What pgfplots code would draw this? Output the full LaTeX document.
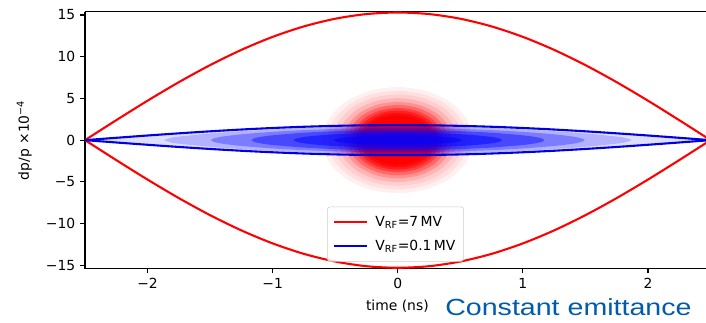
\documentclass[border=0pt]{standalone}
\usepackage{fontspec}
\setmainfont{DejaVu Sans}
\newfontfamily\cefont[FakeStretch=1.225]{Liberation Sans}
\usepackage{pgfplots}
\usepackage{pgfplotstable}
\pgfplotsset{compat=1.18}
\definecolor{cemit}{RGB}{0,91,170}
\definecolor{lblue}{RGB}{0,0,225}

\pgfplotstableread{
u v
1 0
0.9239 0.3827
0.7071 0.7071
0.3827 0.9239
0 1
-0.3827 0.9239
-0.7071 0.7071
-0.9239 0.3827
-1 0
-0.9239 -0.3827
-0.7071 -0.7071
-0.3827 -0.9239
0 -1
0.3827 -0.9239
0.7071 -0.7071
0.9239 -0.3827
1 0
}\unitcircle

\begin{document}
\begin{tikzpicture}
\begin{axis}[
  width=447.1pt, height=185pt, scale only axis,
  xmin=-2.5, xmax=2.464, ymin=-15.4, ymax=15.4,
  axis y line*=left,
  xtick={-2,-1,0,1,2}, xticklabels={−2,−1,0,1,2},
  ytick={-15,-10,-5,0,5,10,15}, yticklabels={−15,−10,−5,0,5,10,15},
  xtick pos=bottom, ytick pos=left,
  tick align=outside, major tick length=3.5pt,
  tick style={black, line width=0.8pt},
  axis line style={line width=0.8pt},
  xlabel={time (ns)},
  ylabel={dp/p ×10\textsuperscript{−4}},
  xlabel style={at={(axis description cs:0.503,-0.163)}, anchor=base, inner sep=0pt},
  ylabel style={at={(axis description cs:-0.0854,0.5)}, anchor=south, rotate=0, inner sep=0pt},
  legend style={at={(0.5,0.027)}, anchor=south, draw=black!20, rounded corners=2pt,
    fill=white, fill opacity=0.8, text opacity=1, inner xsep=4pt, inner ysep=4.5pt,
    row sep=4.5pt, column sep=3pt},
  legend cell align=left,
  legend image code/.code={\draw[#1] (0pt,0pt) -- (24pt,0pt);},
]
% red bunch (7 MV), density layers
\addplot[draw=none, fill=red, fill opacity=0.06, smooth, forget plot] table[x expr=\thisrow{u}*0.602, y expr=\thisrow{v}*6.364] {\unitcircle} -- cycle;
\addplot[draw=none, fill=red, fill opacity=0.07, smooth, forget plot] table[x expr=\thisrow{u}*0.56, y expr=\thisrow{v}*5.92] {\unitcircle} -- cycle;
\addplot[draw=none, fill=red, fill opacity=0.08, smooth, forget plot] table[x expr=\thisrow{u}*0.518, y expr=\thisrow{v}*5.476] {\unitcircle} -- cycle;
\addplot[draw=none, fill=red, fill opacity=0.12, smooth, forget plot] table[x expr=\thisrow{u}*0.476, y expr=\thisrow{v}*5.032] {\unitcircle} -- cycle;
\addplot[draw=none, fill=red, fill opacity=0.2, smooth, forget plot] table[x expr=\thisrow{u}*0.434, y expr=\thisrow{v}*4.588] {\unitcircle} -- cycle;
\addplot[draw=none, fill=red, fill opacity=0.28, smooth, forget plot] table[x expr=\thisrow{u}*0.399, y expr=\thisrow{v}*4.218] {\unitcircle} -- cycle;
\addplot[draw=none, fill=red, fill opacity=0.38, smooth, forget plot] table[x expr=\thisrow{u}*0.364, y expr=\thisrow{v}*3.848] {\unitcircle} -- cycle;
\addplot[draw=none, fill=red, fill opacity=0.5, smooth, forget plot] table[x expr=\thisrow{u}*0.336, y expr=\thisrow{v}*3.552] {\unitcircle} -- cycle;
\addplot[draw=none, fill=red, fill opacity=0.7, smooth, forget plot] table[x expr=\thisrow{u}*0.308, y expr=\thisrow{v}*3.256] {\unitcircle} -- cycle;
\addplot[draw=none, fill=red, smooth, forget plot] table[x expr=\thisrow{u}*0.28, y expr=\thisrow{v}*2.96] {\unitcircle} -- cycle;
% blue bunch (0.1 MV), density layers following the bucket contours
\addplot[draw=none, fill=blue, fill opacity=0.13, smooth, forget plot] coordinates {
(-2.5,0) (-2.25,0.282) (-2,0.556) (-1.75,0.817) (-1.5,1.058) (-1.25,1.273) (-1,1.456) (-0.75,1.604) (-0.5,1.712) (-0.25,1.778) (0,1.8) (0.25,1.778) (0.5,1.712) (0.75,1.604) (1,1.456) (1.25,1.273) (1.5,1.058) (1.75,0.817) (2,0.556) (2.25,0.282) (2.5,0)
(2.25,-0.282) (2,-0.556) (1.75,-0.817) (1.5,-1.058) (1.25,-1.273) (1,-1.456) (0.75,-1.604) (0.5,-1.712) (0.25,-1.778) (0,-1.8) (-0.25,-1.778) (-0.5,-1.712) (-0.75,-1.604) (-1,-1.456) (-1.25,-1.273) (-1.5,-1.058) (-1.75,-0.817) (-2,-0.556) (-2.25,-0.282) (-2.5,0)} -- cycle;
\addplot[draw=none, fill=blue, fill opacity=0.2, smooth, forget plot] coordinates {
(-1.867,0) (-1.82,0.266) (-1.75,0.427) (-1.5,0.796) (-1.25,1.065) (-1,1.279) (-0.75,1.444) (-0.5,1.563) (-0.25,1.635) (0,1.659) (0.25,1.635) (0.5,1.563) (0.75,1.444) (1,1.279) (1.25,1.065) (1.5,0.796) (1.75,0.427) (1.82,0.266) (1.867,0)
(1.82,-0.266) (1.75,-0.427) (1.5,-0.796) (1.25,-1.065) (1,-1.279) (0.75,-1.444) (0.5,-1.563) (0.25,-1.635) (0,-1.659) (-0.25,-1.635) (-0.5,-1.563) (-0.75,-1.444) (-1,-1.279) (-1.25,-1.065) (-1.5,-0.796) (-1.75,-0.427) (-1.82,-0.266) (-1.867,0)} -- cycle;
\addplot[draw=none, fill=blue, fill opacity=0.3, smooth, forget plot] coordinates {
(-1.4925,0) (-1.47,0.207) (-1.4,0.427) (-1.25,0.697) (-1,0.994) (-0.75,1.199) (-0.5,1.340) (-0.25,1.424) (0,1.451) (0.25,1.424) (0.5,1.340) (0.75,1.199) (1,0.994) (1.25,0.697) (1.4,0.427) (1.47,0.207) (1.4925,0)
(1.47,-0.207) (1.4,-0.427) (1.25,-0.697) (1,-0.994) (0.75,-1.199) (0.5,-1.340) (0.25,-1.424) (0,-1.451) (-0.25,-1.424) (-0.5,-1.340) (-0.75,-1.199) (-1,-0.994) (-1.25,-0.697) (-1.4,-0.427) (-1.47,-0.207) (-1.4925,0)} -- cycle;
\addplot[draw=none, fill=blue, fill opacity=0.42, smooth, forget plot] coordinates {
(-1.1703,0) (-1.15,0.202) (-1.1,0.376) (-1,0.582) (-0.75,0.889) (-0.5,1.072) (-0.25,1.175) (0,1.208) (0.25,1.175) (0.5,1.072) (0.75,0.889) (1,0.582) (1.1,0.376) (1.15,0.202) (1.1703,0)
(1.15,-0.202) (1.1,-0.376) (1,-0.582) (0.75,-0.889) (0.5,-1.072) (0.25,-1.175) (0,-1.208) (-0.25,-1.175) (-0.5,-1.072) (-0.75,-0.889) (-1,-0.582) (-1.1,-0.376) (-1.15,-0.202) (-1.1703,0)} -- cycle;
\addplot[draw=none, fill=blue, fill opacity=0.5, smooth, forget plot] coordinates {
(-0.8333,0) (-0.8,0.241) (-0.7,0.472) (-0.5,0.708) (-0.25,0.855) (0,0.900) (0.25,0.855) (0.5,0.708) (0.7,0.472) (0.8,0.241) (0.8333,0)
(0.8,-0.241) (0.7,-0.472) (0.5,-0.708) (0.25,-0.855) (0,-0.900) (-0.25,-0.855) (-0.5,-0.708) (-0.7,-0.472) (-0.8,-0.241) (-0.8333,0)} -- cycle;
\addplot[draw=none, fill=blue, fill opacity=0.5, smooth, forget plot] coordinates {
(-0.512,0) (-0.48,0.196) (-0.4,0.352) (-0.25,0.495) (0,0.569) (0.25,0.495) (0.4,0.352) (0.48,0.196) (0.512,0)
(0.48,-0.196) (0.4,-0.352) (0.25,-0.495) (0,-0.569) (-0.25,-0.495) (-0.4,-0.352) (-0.48,-0.196) (-0.512,0)} -- cycle;
% separatrices
\addplot[red, line width=1.5pt, smooth] coordinates {
(-2.5,0) (-2.25,2.393) (-2,4.728) (-1.75,6.946) (-1.5,8.993) (-1.25,10.819) (-1,12.378) (-0.75,13.632) (-0.5,14.551) (-0.25,15.112) (0,15.3) (0.25,15.112) (0.5,14.551) (0.75,13.632) (1,12.378) (1.25,10.819) (1.5,8.993) (1.75,6.946) (2,4.728) (2.25,2.393) (2.5,0)};
\addlegendentry{V\textsubscript{RF}=7\,MV}
\addplot[red, line width=1.5pt, smooth, forget plot] coordinates {
(-2.5,0) (-2.25,-2.393) (-2,-4.728) (-1.75,-6.946) (-1.5,-8.993) (-1.25,-10.819) (-1,-12.378) (-0.75,-13.632) (-0.5,-14.551) (-0.25,-15.112) (0,-15.3) (0.25,-15.112) (0.5,-14.551) (0.75,-13.632) (1,-12.378) (1.25,-10.819) (1.5,-8.993) (1.75,-6.946) (2,-4.728) (2.25,-2.393) (2.5,0)};
\addplot[lblue, line width=1.5pt, smooth] coordinates {
(-2.5,0) (-2.25,0.282) (-2,0.556) (-1.75,0.817) (-1.5,1.058) (-1.25,1.273) (-1,1.456) (-0.75,1.604) (-0.5,1.712) (-0.25,1.778) (0,1.8) (0.25,1.778) (0.5,1.712) (0.75,1.604) (1,1.456) (1.25,1.273) (1.5,1.058) (1.75,0.817) (2,0.556) (2.25,0.282) (2.5,0)};
\addlegendentry{V\textsubscript{RF}=0.1\,MV}
\addplot[lblue, line width=1.5pt, smooth, forget plot] coordinates {
(-2.5,0) (-2.25,-0.282) (-2,-0.556) (-1.75,-0.817) (-1.5,-1.058) (-1.25,-1.273) (-1,-1.456) (-0.75,-1.604) (-0.5,-1.712) (-0.25,-1.778) (0,-1.8) (0.25,-1.778) (0.5,-1.712) (0.75,-1.604) (1,-1.456) (1.25,-1.273) (1.5,-1.058) (1.75,-0.817) (2,-0.556) (2.25,-0.282) (2.5,0)};
\coordinate (bl) at (rel axis cs:0,0);
\coordinate (tr) at (rel axis cs:1,1);
\end{axis}
\node[anchor=base west, inner sep=0pt, text=cemit, font=\cefont\fontsize{16.8}{20}\selectfont] at ([xshift=259.2pt,yshift=-34.1pt]bl) {Constant emittance};
\pgfresetboundingbox
\path ([xshift=-61.2pt,yshift=-38.7pt]bl) rectangle ([yshift=8.4pt]tr);
\end{tikzpicture}
\end{document}
